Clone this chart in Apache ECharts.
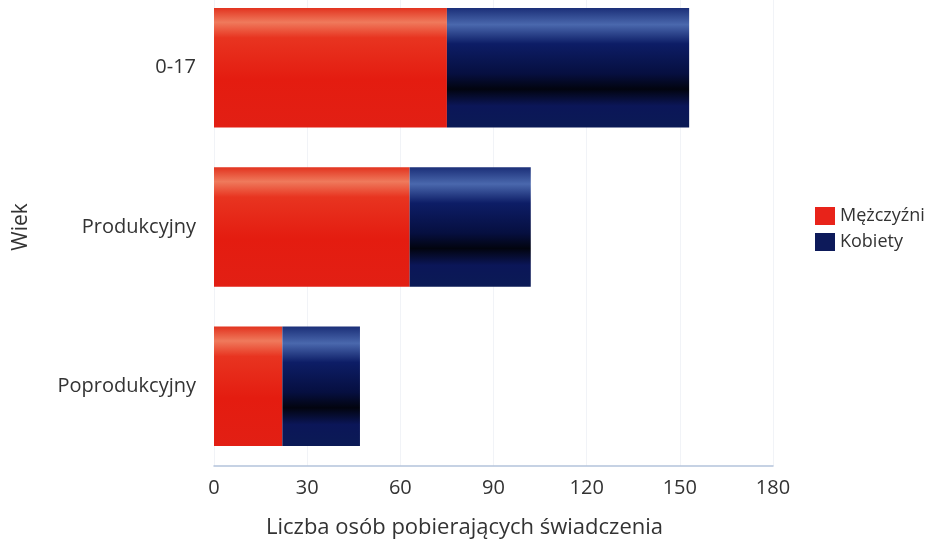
<!DOCTYPE html>
<html><head><meta charset="utf-8">
<script src="https://cdn.jsdelivr.net/npm/echarts@6/dist/echarts.min.js"></script>
<style>html,body{margin:0;padding:0;background:#fff;overflow:hidden}#c{width:942px;height:556px;margin-top:-12px}</style>
</head><body><div id="c"></div>
<script>
const categories = ['0-17', 'Produkcyjny', 'Poprodukcyjny'];
const men = [75, 63, 22];
const women = [78, 39, 25];
const seriesNames = ['Mężczyźni', 'Kobiety'];
const xTicks = [0, 30, 60, 90, 120, 150, 180];

const font = 'Open Sans';
const redGrad = new echarts.graphic.LinearGradient(0, 0, 0, 1, [
  {offset: 0, color: '#e2331f'}, {offset: 0.12, color: '#ef7a5c'},
  {offset: 0.25, color: '#e83420'}, {offset: 0.6, color: '#e41c10'},
  {offset: 1, color: '#e21f14'}]);
const blueGrad = new echarts.graphic.LinearGradient(0, 0, 0, 1, [
  {offset: 0, color: '#1b2f78'}, {offset: 0.14, color: '#4a68ad'},
  {offset: 0.3, color: '#0d1d66'}, {offset: 0.55, color: '#060f40'},
  {offset: 0.68, color: '#02040f'}, {offset: 0.82, color: '#0b1658'},
  {offset: 1, color: '#0b1a55'}]);

const chart = echarts.init(document.getElementById('c'));
chart.setOption({
  animation: false,
  textStyle: {fontFamily: font},
  legend: {
    orient: 'vertical', left: 810, top: 214, itemWidth: 20, itemHeight: 18, itemGap: 8,
    icon: 'rect',
    textStyle: {fontSize: 18, color: '#333', fontFamily: font},
    data: [{name: seriesNames[0], itemStyle: {color: '#e8231a'}}, {name: seriesNames[1], itemStyle: {color: '#0d1a5a'}}]
  },
  grid: {left: 214, right: 169, top: 0, bottom: 77, containLabel: false},
  xAxis: {
    type: 'value', min: xTicks[0], max: xTicks[xTicks.length - 1], interval: 30,
    name: 'Liczba osób pobierających świadczenia', nameLocation: 'middle', nameGap: 51,
    nameTextStyle: {fontSize: 22, color: '#333', fontFamily: font, padding: [0, 58, 0, 0]},
    axisLine: {show: true, lineStyle: {color: '#b4c4dc', width: 1.5}},
    axisTick: {show: false},
    axisLabel: {fontSize: 20, color: '#333', margin: 12, fontFamily: font},
    splitLine: {show: true, lineStyle: {color: '#f1f3f7'}}
  },
  yAxis: {
    type: 'category', data: categories, inverse: true,
    name: 'Wiek', nameLocation: 'middle', nameGap: 182, nameRotate: 90,
    nameTextStyle: {fontSize: 21, color: '#333', fontFamily: font},
    axisLine: {show: false}, axisTick: {show: false},
    axisLabel: {fontSize: 20, color: '#333', margin: 18, fontFamily: font}
  },
  series: [
    {name: seriesNames[0], type: 'bar', stack: 's', data: men, barCategoryGap: '25%', itemStyle: {color: redGrad}},
    {name: seriesNames[1], type: 'bar', stack: 's', data: women, barCategoryGap: '25%', itemStyle: {color: blueGrad}}
  ]
});
</script></body></html>
